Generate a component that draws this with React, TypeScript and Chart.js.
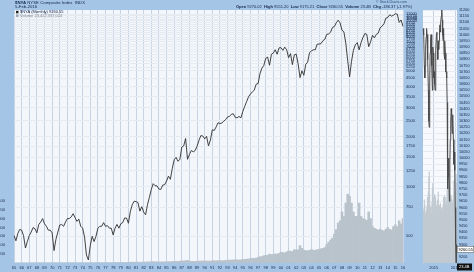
import React, { useEffect, useRef } from "react";
import { Chart, registerables } from "chart.js";
Chart.register(...registerables);

// ---------- DATA ----------
const firstYear = 1965;
const lastFullYear = 2015;
const quarterLabels: string[] = [];
for (let y = firstYear; y <= lastFullYear; y++) for (let q = 1; q <= 4; q++) quarterLabels.push(`${y}Q${q}`);
quarterLabels.push("2016Q1");

// NYSE Composite, quarterly readings (1965Q1 .. 2016Q1)
const nyaQuarterly: number[] = [
  505, 470, 520, 550, 545, 505, 425, 465, 505, 530, 565, 555, 525, 590, 610, 640,
  595, 575, 545, 545, 525, 410, 480, 530, 585, 590, 575, 610, 640, 640, 655, 685,
  650, 615, 635, 575, 560, 495, 385, 360, 440, 500, 465, 500, 560, 575, 575, 605,
  575, 580, 560, 560, 510, 560, 590, 560, 595, 605, 645, 645, 600, 705, 775, 815,
  810, 800, 710, 755, 700, 675, 775, 860, 960, 1040, 1010, 1010, 965, 960, 1020, 1025,
  1080, 1155, 1105, 1285, 1450, 1500, 1420, 1460, 1730, 1760, 1950, 1460, 1560, 1650, 1620, 1650,
  1750, 1900, 2030, 2020, 1940, 2010, 1760, 1910, 2200, 2180, 2290, 2430, 2400, 2420, 2480, 2540,
  2630, 2650, 2730, 2750, 2620, 2600, 2650, 2600, 2840, 3050, 3260, 3480, 3620, 3730, 3820, 4150,
  4190, 4800, 5190, 5380, 5950, 6050, 5400, 6300, 6400, 6700, 6300, 6880, 6900, 6650, 6950, 6700,
  6000, 6350, 5450, 6240, 6300, 5520, 4550, 5000, 4700, 5470, 5640, 6440, 6600, 6700, 6700, 7250,
  7250, 7300, 7600, 7750, 8300, 8350, 8550, 9140, 9250, 9750, 10100, 9740, 8800, 8600, 7350, 5760,
  4600, 5700, 6650, 7185, 7400, 6700, 7400, 7960, 8400, 8300, 7000, 7480, 8200, 7900, 8300, 8440,
  9100, 9300, 9600, 10400, 10500, 10900, 10700, 10840, 11050, 11000, 9800, 10140, 9260,
];

// Volume, quarterly readings (axis units)
const volumeQuarterly: number[] = [
  4, 4, 4, 4, 5, 5, 5, 5, 5, 6, 6, 6, 6, 7, 7, 7,
  6, 6, 6, 6, 6, 6, 6, 7, 7, 8, 7, 7, 8, 8, 7, 8,
  8, 8, 7, 8, 7, 7, 7, 8, 9, 10, 9, 9, 10, 10, 9, 10,
  10, 9, 9, 10, 10, 12, 13, 12, 13, 13, 14, 15, 16, 17, 18, 19,
  18, 18, 18, 18, 19, 20, 25, 26, 28, 30, 27, 26, 26, 25, 27, 26,
  28, 30, 30, 33, 38, 38, 37, 40, 45, 46, 50, 60, 40, 38, 38, 36,
  40, 42, 44, 45, 42, 43, 44, 42, 48, 50, 48, 52, 52, 53, 52, 56,
  62, 64, 66, 68, 68, 70, 68, 70, 78, 82, 85, 90, 100, 105, 102, 110,
  125, 140, 145, 165, 170, 175, 200, 190, 195, 205, 200, 215, 240, 235, 225, 250,
  270, 265, 260, 300, 290, 300, 390, 330, 290, 280, 275, 285, 300, 290, 285, 300,
  310, 320, 330, 350, 420, 470, 520, 560, 650, 750, 900, 950, 1150, 1050, 1350, 1550,
  1500, 1350, 1150, 1050, 1050, 1350, 1050, 1000, 980, 960, 1150, 1000, 820, 780, 760, 740,
  760, 740, 720, 760, 800, 760, 740, 820, 860, 820, 950, 880, 1000,
];

const priceTicks: number[] = [
  500, 750, 1000, 1250, 1500, 1750, 2000, 2500, 3000, 3500, 4000, 4500, 5000, 5250, 5500, 5750,
  6000, 6250, 6500, 6750, 7000, 7250, 7500, 7750, 8000, 8250, 8500, 8750, 9000, 9250, 9500, 9750,
  10000, 10250, 10500, 10750, 11000,
];
const volumeTicks: number[] = [200, 400, 600, 800, 1000, 1200, 1400];

// Recent panel (weekly, Jul 2014 .. Feb 2016)
const panelMonths: string[] = [
  "Jul 2014", "Aug 2014", "Sep 2014", "Oct 2014", "Nov 2014", "Dec 2014",
  "Jan 2015", "Feb 2015", "Mar 2015", "Apr 2015", "May 2015", "Jun 2015",
  "Jul 2015", "Aug 2015", "Sep 2015", "Oct 2015", "Nov 2015", "Dec 2015", "Jan 2016",
];
const panelLabels: string[] = [];
panelMonths.forEach((m) => { for (let w = 1; w <= 4; w++) panelLabels.push(`${m} w${w}`); });
panelLabels.push("Feb 2016 w1");

const panelPrice: number[] = [
  11050, 11000, 11020, 10750, 10650, 10750, 10900, 10980, 11050, 11000, 10950, 10800,
  10550, 10300, 10250, 10600, 10850, 10950, 11000, 10980, 10750, 10550, 10900, 10850,
  10650, 10700, 10600, 10550, 10750, 10880, 11000, 11020, 10900, 10800, 10950, 10880,
  10950, 11050, 11080, 11020, 11100, 11150, 11200, 11120, 11000, 10950, 11050, 10850,
  10800, 10950, 10850, 10700, 10700, 10650, 10450, 9750, 9850, 10000, 9900, 9650,
  9950, 10150, 10300, 10400, 10350, 10200, 10350, 10300, 10150, 9950, 10050, 9900,
  9600, 9300, 9050, 9300, 9260,
];
const panelVolume: number[] = [
  4.2, 4.0, 4.3, 5.0, 4.6, 4.0, 3.8, 3.6, 4.2, 4.5, 5.2, 4.6,
  5.6, 6.8, 7.2, 5.4, 4.5, 4.3, 4.4, 3.9, 4.8, 5.9, 6.3, 3.5,
  5.0, 5.2, 5.4, 5.3, 5.1, 4.6, 4.4, 4.5, 4.9, 5.0, 5.6, 4.6,
  4.2, 4.5, 4.6, 4.7, 4.4, 4.3, 4.2, 4.0, 4.3, 4.6, 5.2, 5.0,
  5.3, 4.8, 4.6, 5.2, 4.9, 4.5, 5.8, 7.8, 6.0, 5.4, 6.2, 6.0,
  5.4, 5.0, 5.1, 5.3, 4.9, 5.0, 4.7, 4.0, 5.3, 6.5, 5.6, 3.6,
  6.4, 6.8, 7.0, 6.3, 6.1,
];
const panelTicks: number[] = [
  9200, 9250, 9300, 9350, 9400, 9450, 9500, 9550, 9600, 9650, 9700, 9750, 9800, 9850,
  9900, 9950, 10000, 10050, 10100, 10150, 10200, 10250, 10300, 10350, 10400, 10450,
  10500, 10550, 10600, 10650, 10700, 10750, 10800, 10850, 10900, 10950, 11000, 11050,
  11100, 11150, 11200,
];

const titleSymbol = "$NYA";
const titleName = "NYSE Composite Index  INDX";
const titleDate = "5-Feb-2016";
const quoteParts: [string, string][] = [
  ["Open", "9270.02"], ["High", "9551.20"], ["Low", "9175.21"], ["Close", "9260.55"],
  ["Volume", "23.4B"], ["Chg", "-186.37 (-1.97%)"],
];
const legendPrice = "$NYA (Monthly) 9260.55";
const legendVolume = "Volume 23,422,337,024";
const lastCloseLabel = "9260.55";
const lastVolumeLabel = "23.4B";

// ---------- STYLE ----------
const FRAME = "#a5c5e6";
const PLOT_BG = "#f3f6fb";
const PANEL_BG = "#f7f9fc";
const GRID = "#c7d3e2";
const FAINT = "#e6ebf2";
const INK = "#14264a";
const FONT = '"Liberation Sans", Arial, sans-serif';

const bgPlugin = (color: string) => ({
  id: "bg",
  beforeDraw(chart: any) {
    const { ctx, chartArea: a } = chart;
    ctx.save();
    ctx.fillStyle = color;
    ctx.fillRect(a.left, a.top, a.right - a.left, a.bottom - a.top);
    ctx.restore();
  },
});

const headerPlugin = {
  id: "hdr",
  afterDraw(chart: any) {
    const c = chart.ctx as CanvasRenderingContext2D;
    c.save();
    c.textBaseline = "middle";
    c.fillStyle = INK;
    c.font = `bold 4.3px ${FONT}`;
    c.fillText(titleSymbol, 15, 3.3);
    const w = c.measureText(titleSymbol + " ").width;
    c.font = `4.3px ${FONT}`;
    c.fillText(titleName, 15 + w, 3.3);
    c.fillText(titleDate, 15, 7.3);
    // quote line
    let x = 236;
    quoteParts.forEach(([k, v]) => {
      c.font = `bold 4px ${FONT}`;
      c.fillText(k, x, 7.2);
      x += c.measureText(k + " ").width;
      c.font = `4px ${FONT}`;
      c.fillText(v, x, 7.2);
      x += c.measureText(v + "  ").width;
    });
    c.font = `3.6px ${FONT}`;
    c.fillStyle = "#33507a";
    c.fillText("© StockCharts.com", 376, 2.4);
    // legend
    const a = chart.chartArea;
    c.fillStyle = "#222";
    c.fillRect(a.left + 2, 10.8, 2.5, 2.5);
    c.font = `4px ${FONT}`;
    c.fillStyle = INK;
    c.fillText(legendPrice, a.left + 6, 12.2);
    c.fillStyle = "#9aa6b2";
    c.fillRect(a.left + 2, 14.4, 2.5, 2.5);
    c.fillStyle = "#7d8894";
    c.fillText(legendVolume, a.left + 6, 15.8);
    c.restore();
  },
};

const markerPlugin = {
  id: "marker",
  afterDraw(chart: any) {
    const c = chart.ctx as CanvasRenderingContext2D;
    const a = chart.chartArea;
    const y = chart.scales.y.getPixelForValue(panelPrice[panelPrice.length - 1]);
    c.save();
    c.font = `4px ${FONT}`;
    c.textBaseline = "middle";
    c.fillStyle = "#ffffff";
    c.fillRect(a.right, y - 3, 17, 6);
    c.strokeStyle = "#555";
    c.lineWidth = 0.5;
    c.strokeRect(a.right + 0.25, y - 3, 16.5, 6);
    c.fillStyle = "#000";
    c.fillText(lastCloseLabel, a.right + 1.5, y);
    c.fillStyle = "#111";
    c.fillRect(a.right, a.bottom + 0.5, 15, 7);
    c.fillStyle = "#fff";
    c.fillText(lastVolumeLabel, a.right + 2, a.bottom + 4);
    c.restore();
  },
};

export default function App() {
  const mainRef = useRef<HTMLCanvasElement>(null);
  const panelRef = useRef<HTMLCanvasElement>(null);

  useEffect(() => {
    const tickFont = { size: 4, family: FONT };
    const main = new Chart(mainRef.current!, {
      type: "line",
      data: {
        labels: quarterLabels,
        datasets: [
          {
            type: "line",
            label: "$NYA",
            data: nyaQuarterly,
            yAxisID: "yP",
            borderColor: "#2e2e2e",
            borderWidth: 0.9,
            pointRadius: 0,
            tension: 0,
            order: 0,
          } as any,
          {
            type: "bar",
            label: "Volume",
            data: volumeQuarterly,
            yAxisID: "yV",
            backgroundColor: "#b9c3cc",
            borderWidth: 0,
            barPercentage: 1,
            categoryPercentage: 1,
            order: 1,
          } as any,
        ],
      },
      options: {
        responsive: false,
        maintainAspectRatio: false,
        animation: false,
        layout: { padding: { top: 10, left: 0, right: 0, bottom: 0 } },
        plugins: { legend: { display: false }, tooltip: { enabled: false } },
        scales: {
          x: {
            offset: false,
            grid: {
              offset: false,
              drawTicks: false,
              color: (ctx: any) => (ctx.index % 4 === 0 ? GRID : "rgba(0,0,0,0)"),
            },
            border: { display: false },
            ticks: {
              autoSkip: false,
              maxRotation: 0,
              minRotation: 0,
              padding: 2,
              font: tickFont,
              color: INK,
              callback: (_v: any, i: number) => (i % 4 === 0 ? quarterLabels[i].slice(2, 4) : ""),
            },
            afterFit: (s: any) => { s.height = 9; },
          } as any,
          yP: {
            type: "logarithmic",
            position: "right",
            min: 345,
            max: 11650,
            grid: { color: FAINT, drawTicks: false },
            border: { display: false },
            afterBuildTicks: (s: any) => { s.ticks = priceTicks.map((v) => ({ value: v })); },
            ticks: {
              autoSkip: false,
              padding: 3,
              font: tickFont,
              color: INK,
              callback: (v: any) => String(v),
            },
            afterFit: (s: any) => { s.width = 18; },
          } as any,
          yV: {
            type: "linear",
            position: "left",
            min: 0,
            max: 5700,
            grid: { display: false },
            border: { display: false },
            afterBuildTicks: (s: any) => { s.ticks = volumeTicks.map((v) => ({ value: v })); },
            ticks: {
              autoSkip: false,
              padding: 1,
              font: tickFont,
              color: INK,
              callback: (v: any) => String(v),
            },
            afterFit: (s: any) => { s.width = 14; },
          } as any,
        },
      },
      plugins: [bgPlugin(PLOT_BG), headerPlugin],
    });

    const yearIdx2015 = panelLabels.indexOf("Jan 2015 w1");
    const yearIdx2016 = panelLabels.indexOf("Jan 2016 w1");
    const panel = new Chart(panelRef.current!, {
      type: "line",
      data: {
        labels: panelLabels,
        datasets: [
          {
            type: "line",
            data: panelPrice,
            yAxisID: "y",
            borderColor: "#4a4a4a",
            borderWidth: 1,
            pointRadius: 0,
            tension: 0,
            order: 0,
          } as any,
          {
            type: "bar",
            data: panelVolume,
            yAxisID: "yV",
            backgroundColor: "#c2cad1",
            borderWidth: 0,
            barPercentage: 1,
            categoryPercentage: 1,
            order: 1,
          } as any,
        ],
      },
      options: {
        responsive: false,
        maintainAspectRatio: false,
        animation: false,
        layout: { padding: { top: 10, left: 2, right: 0, bottom: 0 } },
        plugins: { legend: { display: false }, tooltip: { enabled: false } },
        scales: {
          x: {
            offset: false,
            grid: {
              offset: false,
              drawTicks: false,
              color: (ctx: any) =>
                ctx.index === yearIdx2015 || ctx.index === yearIdx2016 ? GRID : "rgba(0,0,0,0)",
            },
            border: { display: false },
            ticks: {
              autoSkip: false,
              maxRotation: 0,
              minRotation: 0,
              padding: 2,
              font: tickFont,
              color: INK,
              callback: (_v: any, i: number) =>
                i === yearIdx2015 ? "2015" : i === yearIdx2016 ? "2016" : "",
            },
            afterFit: (s: any) => { s.height = 9; },
          } as any,
          y: {
            type: "linear",
            position: "right",
            min: 9150,
            max: 11200,
            grid: { color: FAINT, drawTicks: false },
            border: { display: false },
            afterBuildTicks: (s: any) => { s.ticks = panelTicks.map((v) => ({ value: v })); },
            ticks: {
              autoSkip: false,
              padding: 2,
              font: { size: 3.8, family: FONT },
              color: INK,
              callback: (v: any) => String(v),
            },
            afterFit: (s: any) => { s.width = 17; },
          } as any,
          yV: { type: "linear", display: false, min: 0, max: 20 } as any,
        },
      },
      plugins: [bgPlugin(PANEL_BG), markerPlugin],
    });

    return () => {
      main.destroy();
      panel.destroy();
    };
  }, []);

  return (
    <div style={{ position: "absolute", left: 0, top: 0, width: 474, height: 272, background: FRAME, overflow: "hidden" }}>
      <canvas ref={mainRef} width={421} height={272} style={{ position: "absolute", left: 0, top: 0, width: 421, height: 272 }} />
      <canvas ref={panelRef} width={53} height={272} style={{ position: "absolute", left: 421, top: 0, width: 53, height: 272 }} />
    </div>
  );
}
